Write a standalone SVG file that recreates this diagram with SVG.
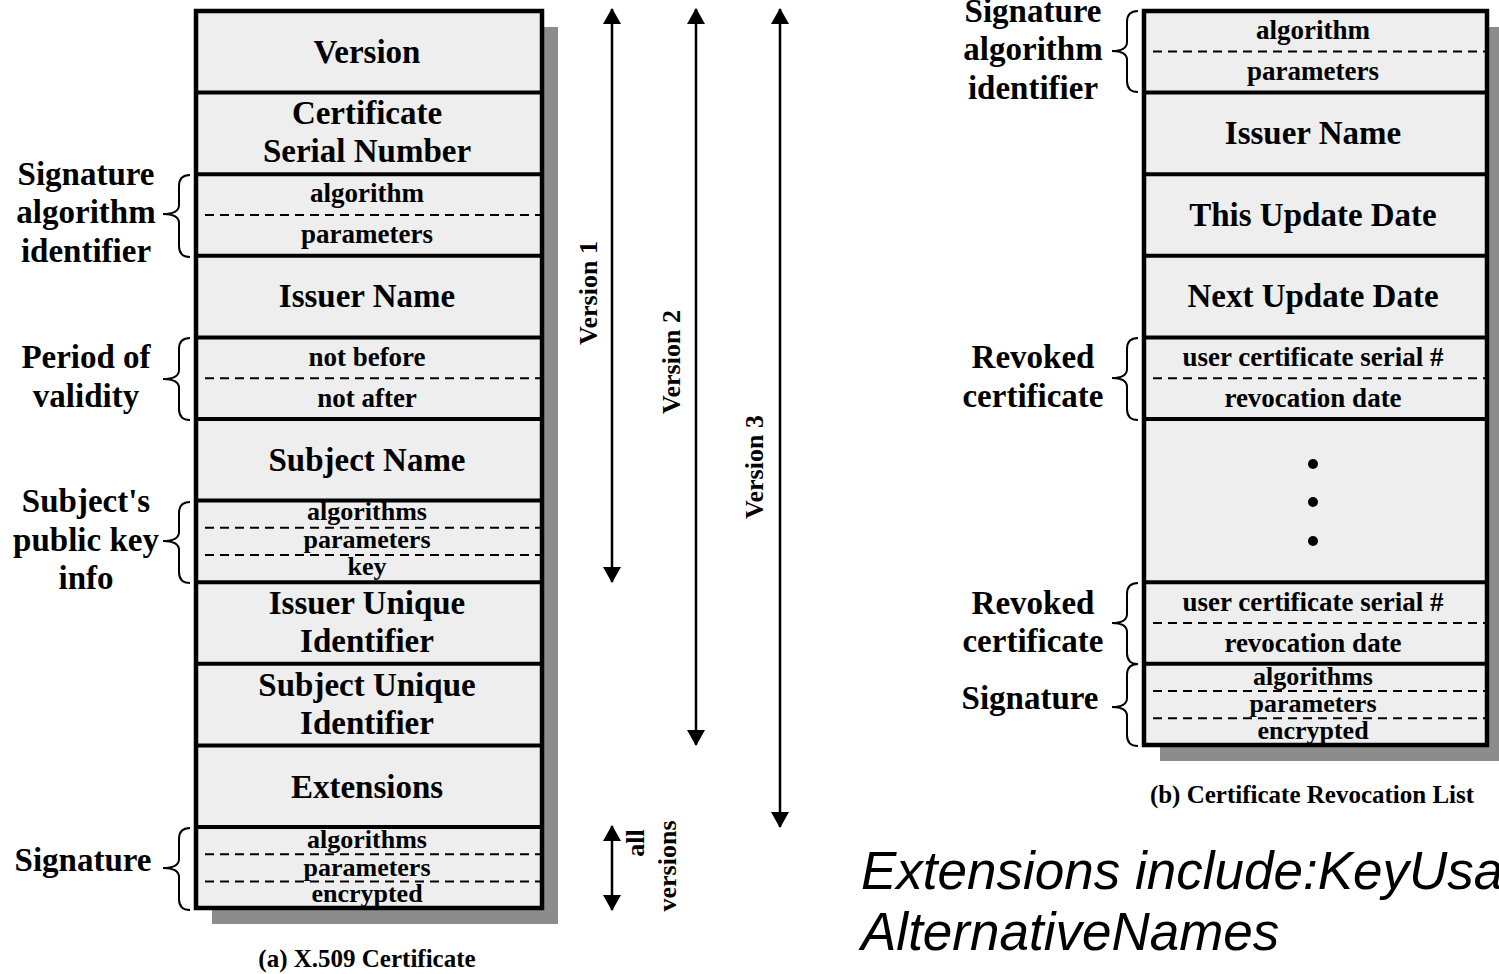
<svg xmlns="http://www.w3.org/2000/svg" width="1499" height="974" viewBox="0 0 1499 974">
<defs>
<style>
.shadow{fill:#8c8c8c}
.box{fill:#eeeeee;stroke:#000;stroke-width:4.5}
.div{stroke:#000;stroke-width:4}
.dash{stroke:#000;stroke-width:2;stroke-dasharray:9 6}
.big{font-family:"Liberation Serif","Times New Roman",serif;font-weight:bold;font-size:33px;text-anchor:middle;fill:#000}
.small{font-family:"Liberation Serif","Times New Roman",serif;font-weight:bold;font-size:27px;text-anchor:middle;fill:#000}
.tiny{font-family:"Liberation Serif","Times New Roman",serif;font-weight:bold;font-size:26px;text-anchor:middle;fill:#000}
.lbl{font-family:"Liberation Serif","Times New Roman",serif;font-weight:bold;font-size:33px;text-anchor:middle;fill:#000}
.ver{font-family:"Liberation Serif","Times New Roman",serif;font-weight:bold;font-size:26px;text-anchor:middle;fill:#000}
.cap{font-family:"Liberation Serif","Times New Roman",serif;font-weight:bold;font-size:25px;text-anchor:middle;fill:#000}
.brace{fill:none;stroke:#000;stroke-width:2}
.arr{stroke:#000;stroke-width:2.5;marker-start:url(#ah);marker-end:url(#ah)}
.note{font-family:"Liberation Sans",Arial,sans-serif;font-style:italic;font-size:53px;fill:#000}
</style>
<marker id="ah" viewBox="0 0 16 18" refX="15" refY="9" markerWidth="16" markerHeight="18" markerUnits="userSpaceOnUse" orient="auto-start-reverse">
<path d="M0,0 L16,9 L0,18 z" fill="#000"/>
</marker>
</defs>
<rect width="1499" height="974" fill="#fff"/>

<!-- (a) X.509 Certificate -->
<g id="certificate">
<rect class="shadow" x="212" y="27" width="346" height="897"/>
<rect class="box" x="196" y="11" width="346" height="897"/>
<line class="div" x1="196" y1="92.6" x2="542" y2="92.6"/>
<line class="div" x1="196" y1="174.2" x2="542" y2="174.2"/>
<line class="div" x1="196" y1="255.8" x2="542" y2="255.8"/>
<line class="div" x1="196" y1="337.4" x2="542" y2="337.4"/>
<line class="div" x1="196" y1="419" x2="542" y2="419"/>
<line class="div" x1="196" y1="500.6" x2="542" y2="500.6"/>
<line class="div" x1="196" y1="582.2" x2="542" y2="582.2"/>
<line class="div" x1="196" y1="663.8" x2="542" y2="663.8"/>
<line class="div" x1="196" y1="745.4" x2="542" y2="745.4"/>
<line class="div" x1="196" y1="827" x2="542" y2="827"/>
<line class="dash" x1="205" y1="215" x2="540" y2="215"/>
<line class="dash" x1="205" y1="378.2" x2="540" y2="378.2"/>
<line class="dash" x1="205" y1="527.8" x2="540" y2="527.8"/>
<line class="dash" x1="205" y1="555" x2="540" y2="555"/>
<line class="dash" x1="205" y1="854.2" x2="540" y2="854.2"/>
<line class="dash" x1="205" y1="881.4" x2="540" y2="881.4"/>
</g>
<g id="cert-fields">
<text class="big" x="367" y="63">Version</text>
<text class="big" x="367" y="124">Certificate</text>
<text class="big" x="367" y="162">Serial Number</text>
<text class="small" x="367" y="202">algorithm</text>
<text class="small" x="367" y="243">parameters</text>
<text class="big" x="367" y="307">Issuer Name</text>
<text class="small" x="367" y="366">not before</text>
<text class="small" x="367" y="407">not after</text>
<text class="big" x="367" y="471">Subject Name</text>
<text class="tiny" x="367" y="520">algorithms</text>
<text class="tiny" x="367" y="548">parameters</text>
<text class="tiny" x="367" y="575">key</text>
<text class="big" x="367" y="614">Issuer Unique</text>
<text class="big" x="367" y="652">Identifier</text>
<text class="big" x="367" y="696">Subject Unique</text>
<text class="big" x="367" y="734">Identifier</text>
<text class="big" x="367" y="798">Extensions</text>
<text class="tiny" x="367" y="848">algorithms</text>
<text class="tiny" x="367" y="876">parameters</text>
<text class="tiny" x="367" y="902">encrypted</text>
</g>
<g id="cert-labels">
<text class="lbl" x="86" y="185">Signature</text>
<text class="lbl" x="86" y="223">algorithm</text>
<text class="lbl" x="86" y="262">identifier</text>
<text class="lbl" x="86" y="368">Period of</text>
<text class="lbl" x="86" y="407">validity</text>
<text class="lbl" x="86" y="512">Subject's</text>
<text class="lbl" x="86" y="551">public key</text>
<text class="lbl" x="86" y="589">info</text>
<text class="lbl" x="83" y="871">Signature</text>
<path class="brace" d="M190,175 Q179,175 179,186 L179,205 Q179,214 163,214 Q179,214 179,223 L179,246 Q179,257 190,257"/>
<path class="brace" d="M190,338 Q179,338 179,349 L179,370 Q179,379 163,379 Q179,379 179,388 L179,409 Q179,420 190,420"/>
<path class="brace" d="M190,502 Q179,502 179,513 L179,532 Q179,541 163,541 Q179,541 179,550 L179,572 Q179,583 190,583"/>
<path class="brace" d="M190,828 Q179,828 179,839 L179,859 Q179,868 163,868 Q179,868 179,877 L179,899 Q179,910 190,910"/>
<text class="cap" x="367" y="967">(a) X.509 Certificate</text>
</g>

<!-- Version arrows -->
<g id="connectors">
<line class="arr" x1="612" y1="9" x2="612" y2="582"/>
<line class="arr" x1="696" y1="9" x2="696" y2="745"/>
<line class="arr" x1="780" y1="9" x2="780" y2="827"/>
<line class="arr" x1="612" y1="826" x2="612" y2="910"/>
</g>
<g id="version-labels">
<text class="ver" transform="translate(597,293) rotate(-90)">Version 1</text>
<text class="ver" transform="translate(680,362) rotate(-90)">Version 2</text>
<text class="ver" transform="translate(763,467) rotate(-90)">Version 3</text>
<text class="ver" transform="translate(644,843) rotate(-90)">all</text>
<text class="ver" transform="translate(676,866) rotate(-90)">versions</text>
</g>

<!-- (b) Certificate Revocation List -->
<g id="crl">
<rect class="shadow" x="1160" y="27" width="345" height="734"/>
<rect class="box" x="1144" y="11" width="343" height="734"/>
<line class="div" x1="1144" y1="92.6" x2="1487" y2="92.6"/>
<line class="div" x1="1144" y1="174.2" x2="1487" y2="174.2"/>
<line class="div" x1="1144" y1="255.8" x2="1487" y2="255.8"/>
<line class="div" x1="1144" y1="337.4" x2="1487" y2="337.4"/>
<line class="div" x1="1144" y1="419" x2="1487" y2="419"/>
<line class="div" x1="1144" y1="582.2" x2="1487" y2="582.2"/>
<line class="div" x1="1144" y1="663.8" x2="1487" y2="663.8"/>
<line class="dash" x1="1153" y1="51.5" x2="1485" y2="51.5"/>
<line class="dash" x1="1153" y1="378.2" x2="1485" y2="378.2"/>
<line class="dash" x1="1153" y1="623" x2="1485" y2="623"/>
<line class="dash" x1="1153" y1="691" x2="1485" y2="691"/>
<line class="dash" x1="1153" y1="718.2" x2="1485" y2="718.2"/>
<circle cx="1313" cy="464" r="5"/>
<circle cx="1313" cy="502" r="5"/>
<circle cx="1313" cy="541" r="5"/>
</g>
<g id="crl-fields">
<text class="small" x="1313" y="39">algorithm</text>
<text class="small" x="1313" y="80">parameters</text>
<text class="big" x="1313" y="144">Issuer Name</text>
<text class="big" x="1313" y="226">This Update Date</text>
<text class="big" x="1313" y="307">Next Update Date</text>
<text class="small" x="1313" y="366">user certificate serial #</text>
<text class="small" x="1313" y="407">revocation date</text>
<text class="small" x="1313" y="611">user certificate serial #</text>
<text class="small" x="1313" y="652">revocation date</text>
<text class="tiny" x="1313" y="685">algorithms</text>
<text class="tiny" x="1313" y="712">parameters</text>
<text class="tiny" x="1313" y="739">encrypted</text>
</g>
<g id="crl-labels">
<text class="lbl" x="1033" y="22">Signature</text>
<text class="lbl" x="1033" y="60">algorithm</text>
<text class="lbl" x="1033" y="99">identifier</text>
<text class="lbl" x="1033" y="368">Revoked</text>
<text class="lbl" x="1033" y="407">certificate</text>
<text class="lbl" x="1033" y="614">Revoked</text>
<text class="lbl" x="1033" y="652">certificate</text>
<text class="lbl" x="1030" y="709">Signature</text>
<path class="brace" d="M1138,11 Q1127,11 1127,22 L1127,42 Q1127,51 1112,51 Q1127,51 1127,60 L1127,81 Q1127,92 1138,92"/>
<path class="brace" d="M1138,338 Q1127,338 1127,349 L1127,369 Q1127,378 1112,378 Q1127,378 1127,387 L1127,409 Q1127,420 1138,420"/>
<path class="brace" d="M1138,583 Q1127,583 1127,594 L1127,614 Q1127,623 1112,623 Q1127,623 1127,632 L1127,653 Q1127,664 1138,664"/>
<path class="brace" d="M1138,664 Q1127,664 1127,675 L1127,698 Q1127,707 1112,707 Q1127,707 1127,716 L1127,735 Q1127,746 1138,746"/>
<text class="cap" x="1312" y="803">(b) Certificate Revocation List</text>
</g>

<g id="note">
<text class="note" x="861" y="889">Extensions include:KeyUsa</text>
<text class="note" x="861" y="950">AlternativeNames</text>
</g>
</svg>
